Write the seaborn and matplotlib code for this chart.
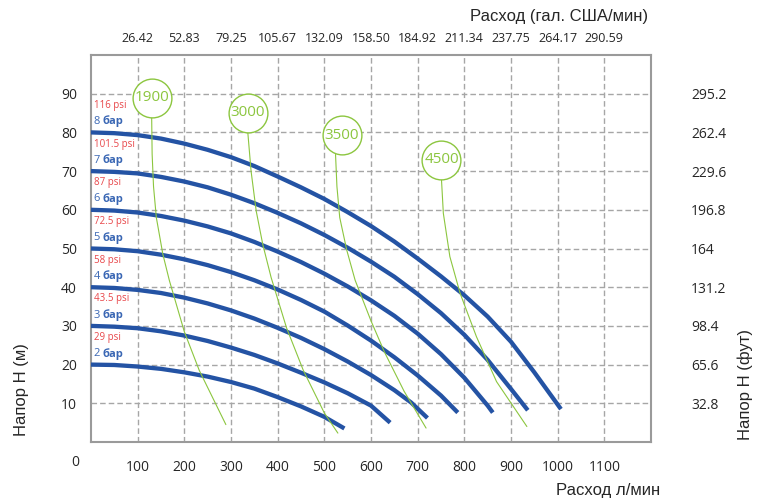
import matplotlib
matplotlib.use("Agg")
import matplotlib.pyplot as plt
import matplotlib.transforms as mtransforms
import pandas as pd
import seaborn as sns

# расход л/мин -> напор м, линии давления (бар)
bar_levels = [2, 3, 4, 5, 6, 7, 8]
psi_labels = ["29 psi", "43.5 psi", "58 psi", "72.5 psi", "87 psi", "101.5 psi", "116 psi"]

q_2bar = [0, 50, 100, 150, 200, 250, 300, 350, 400, 450, 500, 543]
h_2bar = [20, 19.9, 19.5, 18.9, 18.0, 16.9, 15.5, 13.8, 11.6, 9.2, 6.5, 3.5]
q_3bar = [0, 50, 100, 150, 200, 250, 300, 350, 400, 450, 500, 550, 600, 641]
h_3bar = [30, 29.8, 29.4, 28.6, 27.5, 26.1, 24.4, 22.5, 20.3, 17.9, 15.4, 12.6, 9.4, 5.0]
q_4bar = [0, 50, 100, 150, 200, 250, 300, 350, 400, 450, 500, 550, 600, 650, 686, 721]
h_4bar = [40, 39.8, 39.3, 38.5, 37.3, 35.8, 34.0, 31.9, 29.5, 26.9, 24.0, 20.8, 17.3,
          13.4, 10.2, 6.2]
q_5bar = [0, 50, 100, 150, 200, 250, 300, 350, 400, 450, 500, 550, 600, 650, 700, 750, 786]
h_5bar = [50, 49.8, 49.3, 48.4, 47.2, 45.7, 43.9, 41.8, 39.4, 36.7, 33.7, 30.1, 26.2,
          21.9, 17.2, 12.0, 7.6]
q_6bar = [0, 50, 100, 150, 200, 250, 300, 350, 400, 450, 500, 550, 600, 650, 700, 750,
          800, 850, 861]
h_6bar = [60, 59.8, 59.3, 58.4, 57.2, 55.7, 53.9, 51.7, 49.2, 46.5, 43.5, 40.2, 36.6,
          32.6, 28.0, 22.7, 16.6, 9.4, 7.6]
q_7bar = [0, 50, 100, 150, 200, 250, 300, 350, 400, 450, 500, 550, 600, 650, 700, 750,
          800, 850, 900, 936]
h_7bar = [70, 69.8, 69.4, 68.5, 67.3, 65.8, 63.9, 61.7, 59.2, 56.5, 53.5, 50.2, 46.6,
          42.7, 38.2, 33.3, 27.7, 21.2, 13.7, 8.2]
q_8bar = [0, 50, 100, 150, 200, 250, 300, 350, 400, 450, 500, 550, 600, 650, 700, 750,
          800, 850, 900, 950, 1007]
h_8bar = [80, 79.8, 79.3, 78.4, 77.1, 75.5, 73.6, 71.3, 68.6, 65.8, 62.8, 59.4, 55.8,
          51.8, 47.4, 42.8, 37.9, 32.4, 25.9, 18.0, 8.5]

# линии оборотов (об/мин)
rpm_names = ["1900", "3000", "3500", "4500"]
rpm_label_q = [130, 336, 537, 751]
rpm_label_h = [89, 85.1, 79.3, 72.9]
q_1900 = [130, 131, 134, 140, 154, 168, 200, 232, 289]
h_1900 = [84, 74.4, 66, 58, 48.5, 41.7, 28.5, 18.5, 4.5]
q_3000 = [336, 343, 354, 368, 386, 419, 455, 500, 529]
h_3000 = [80, 70, 59.7, 51.1, 42.5, 29.5, 18.5, 7.5, 2.3]
q_3500 = [524, 527, 533, 548, 566, 600, 629, 671, 718]
h_3500 = [74.3, 66, 58, 49.6, 41.8, 31.3, 23.2, 13.1, 3.6]
q_4500 = [751, 755, 769, 791, 826, 869, 934]
h_4500 = [67.9, 59.1, 47.9, 38.4, 27.2, 15.6, 4]

x_ticks = [100, 200, 300, 400, 500, 600, 700, 800, 900, 1000, 1100]
gal_labels = ["26.42", "52.83", "79.25", "105.67", "132.09", "158.50",
              "184.92", "211.34", "237.75", "264.17", "290.59"]
y_ticks = [10, 20, 30, 40, 50, 60, 70, 80, 90]
ft_labels = ["32.8", "65.6", "98.4", "131.2", "164", "196.8", "229.6", "262.4", "295.2"]

blue = "#2453a4"
green = "#8cc63f"
red = "#e8474a"
lbl_blue = "#3a67b4"
grid_c = "#a6a6a6"
tick_font = ["Open Sans", "DejaVu Sans"]
title_font = ["Liberation Sans", "DejaVu Sans"]
small_font = ["Open Sans", "DejaVu Sans"]

sns.set_style("white")

fig = plt.figure(figsize=(7.61, 4.99), dpi=100)
ax = fig.add_axes([91 / 761, 57 / 499, 560 / 761, 387 / 499])

pressure = [(q_2bar, h_2bar), (q_3bar, h_3bar), (q_4bar, h_4bar), (q_5bar, h_5bar),
            (q_6bar, h_6bar), (q_7bar, h_7bar), (q_8bar, h_8bar)]
for q, h in pressure:
    df = pd.DataFrame({"q": q, "h": h})
    sns.lineplot(data=df, x="q", y="h", ax=ax, color=blue, lw=3.1,
                 estimator=None, sort=False, zorder=4, solid_capstyle="butt",
                 solid_joinstyle="round")

rpm_lines = [(q_1900, h_1900), (q_3000, h_3000), (q_3500, h_3500), (q_4500, h_4500)]
for q, h in rpm_lines:
    df = pd.DataFrame({"q": q, "h": h})
    sns.lineplot(data=df, x="q", y="h", ax=ax, color=green, lw=0.8,
                 estimator=None, sort=False, zorder=5)

ax.scatter(rpm_label_q, rpm_label_h, s=780, facecolor="white", edgecolor=green,
           linewidth=1.0, zorder=6, clip_on=False)
for name, q, h in zip(rpm_names, rpm_label_q, rpm_label_h):
    ax.text(q, h, name, color=green, fontsize=11, ha="center", va="center",
            family=small_font, zorder=7)

# подписи давления
for b, psi in zip(bar_levels, psi_labels):
    ax.text(6, b * 10 + 7.0, psi, color=red, fontsize=7, ha="left", va="center",
            family=small_font, zorder=7)
    ax.text(6, b * 10 + 2.8, str(b), color=lbl_blue, fontsize=8, ha="left",
            va="center", family=small_font, zorder=7)
    tr = mtransforms.offset_copy(ax.transData, fig=fig, x=9, y=0, units="dots")
    ax.text(6, b * 10 + 2.8, "бар", color=lbl_blue, fontsize=8, ha="left",
            va="center", family=small_font, fontweight="bold", transform=tr, zorder=7)

ax.set_xlim(0, 1200)
ax.set_ylim(0, 100)
ax.set_xticks(x_ticks)
ax.set_yticks(y_ticks)
ax.set_xlabel("")
ax.set_ylabel("")
ax.grid(True, color=grid_c, linestyle=(0, (4, 2.2)), linewidth=1.0)
ax.tick_params(axis="x", length=0, pad=13, labelsize=10)
ax.tick_params(axis="y", length=0, pad=10, labelsize=10)
for lab in ax.get_xticklabels() + ax.get_yticklabels():
    lab.set_family(tick_font)
for sp in ax.spines.values():
    sp.set_color("#9a9a9a")
    sp.set_linewidth(1.5)

ax_top = ax.twiny()
ax_top.set_xlim(0, 1200)
ax_top.set_xticks(x_ticks)
ax_top.set_xticklabels(gal_labels, family=tick_font, fontsize=9)
ax_top.tick_params(axis="x", length=0, pad=7)

ax_r = ax.twinx()
ax_r.set_ylim(0, 100)
ax_r.set_yticks(y_ticks)
ax_r.set_yticklabels(ft_labels, family=tick_font, fontsize=10)
ax_r.tick_params(axis="y", length=0, pad=29)
for a in (ax_top, ax_r):
    for sp in a.spines.values():
        sp.set_visible(False)

fig.text(75 / 761, 1 - 463 / 499, "0", fontsize=10, family=tick_font,
         ha="center", va="center")
fig.text(648 / 761, 1 - 17 / 499, "Расход (гал. США/мин)", fontsize=12,
         family=title_font, ha="right", va="center")
fig.text(660 / 761, 1 - 490 / 499, "Расход л/мин", fontsize=12,
         family=title_font, ha="right", va="center")
fig.text(22 / 761, 1 - 390 / 499, "Напор H (м)", fontsize=12, rotation=90,
         family=title_font, ha="center", va="center")
fig.text(745 / 761, 1 - 385 / 499, "Напор H (фут)", fontsize=12, rotation=90,
         family=title_font, ha="center", va="center")

fig.savefig("out.png", dpi=100)
